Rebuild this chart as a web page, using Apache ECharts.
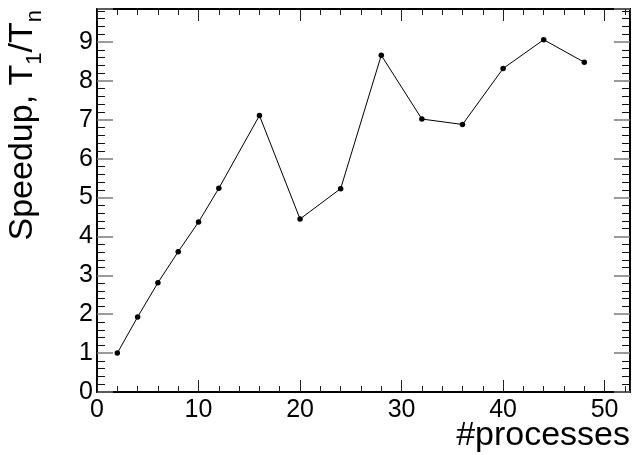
<!DOCTYPE html>
<html>
<head>
<meta charset="utf-8">
<script src="https://cdn.jsdelivr.net/npm/echarts@6/dist/echarts.min.js"></script>
<style>
  html, body { margin: 0; padding: 0; background: #fff; }
  #chart { width: 634px; height: 455px; }
</style>
</head>
<body>
<div id="chart"></div>
<script>
// number of processes vs measured speedup T1/Tn
const processes = [2, 4, 6, 8, 10, 12, 16, 20, 24, 28, 32, 36, 40, 44, 48]
const speedup = [1.00, 1.93, 2.81, 3.61, 4.37, 5.24, 7.11, 4.45, 5.23, 8.66, 7.02, 6.88, 8.32, 9.06, 8.48]

const font = "'Liberation Sans', Arial, Helvetica, sans-serif"
const xRange = { min: 0, max: 52.5, interval: 10 }
const yRange = { min: 0, max: 9.85, interval: 1 }

const frameLine = { show: true, onZero: false, lineStyle: { color: '#000', width: 2 } }

function xAxisOf(position, withLabels) {
  return {
    type: 'value',
    position,
    ...xRange,
    axisLine: frameLine,
    axisTick: { show: true, inside: true, length: 12, lineStyle: { color: '#222', width: 1 } },
    minorTick: { show: true, splitNumber: 5, length: 6, lineStyle: { color: '#222', width: 1 } },
    splitLine: { show: false },
    axisLabel: {
      show: withLabels, color: '#000', fontSize: 25, fontFamily: font, margin: 6,
      showMaxLabel: false, showMinLabel: true,
    },
  }
}

function yAxisOf(position, withLabels) {
  return {
    type: 'value',
    position,
    ...yRange,
    axisLine: frameLine,
    axisTick: { show: true, inside: true, length: 16, lineStyle: { color: '#7a7a7a', width: 1.5 } },
    minorTick: { show: true, splitNumber: 5, length: 8, lineStyle: { color: '#111', width: 1 } },
    splitLine: { show: false },
    axisLabel: {
      show: withLabels, color: '#000', fontSize: 25, fontFamily: font, margin: 4,
      showMaxLabel: false, showMinLabel: true,
    },
  }
}

const xMain = xAxisOf('bottom', true)
xMain.name = '#processes'
xMain.nameLocation = 'end'
xMain.nameGap = 0
xMain.nameMoveOverlap = false
xMain.nameTextStyle = { color: '#000', fontSize: 34, fontFamily: font, align: 'right', verticalAlign: 'top', padding: [27, 0, 0, 0] }

const yMain = yAxisOf('left', true)
yMain.name = '{a|Speedup, T}{s|1}{a|/T}{s|n}'
yMain.nameLocation = 'end'
yMain.nameRotate = 90
yMain.nameGap = -1
yMain.nameMoveOverlap = false
yMain.nameTextStyle = {
  align: 'right',
  verticalAlign: 'bottom',
  padding: [0, 0, 51, 0],
  rich: {
    a: { color: '#000', fontSize: 34, fontFamily: font, verticalAlign: 'top' },
    s: { color: '#000', fontSize: 22, fontFamily: font, verticalAlign: 'top', padding: [18, 0, 0, 0] },
  },
}

const chart = echarts.init(document.getElementById('chart'), null, { renderer: 'canvas' })
chart.setOption({
  animation: false,
  backgroundColor: '#fff',
  textStyle: { fontFamily: font },
  grid: { left: 97, right: 4, top: 9, bottom: 63, containLabel: false, outerBoundsMode: 'none' },
  xAxis: [xMain, xAxisOf('top', false)],
  yAxis: [yMain, yAxisOf('right', false)],
  series: [{
    type: 'line',
    xAxisIndex: 0,
    yAxisIndex: 0,
    data: processes.map((p, i) => [p, speedup[i]]),
    symbol: 'circle',
    symbolSize: 5.5,
    showAllSymbol: true,
    lineStyle: { color: '#000', width: 1 },
    itemStyle: { color: '#000' },
  }],
})
</script>
</body>
</html>
